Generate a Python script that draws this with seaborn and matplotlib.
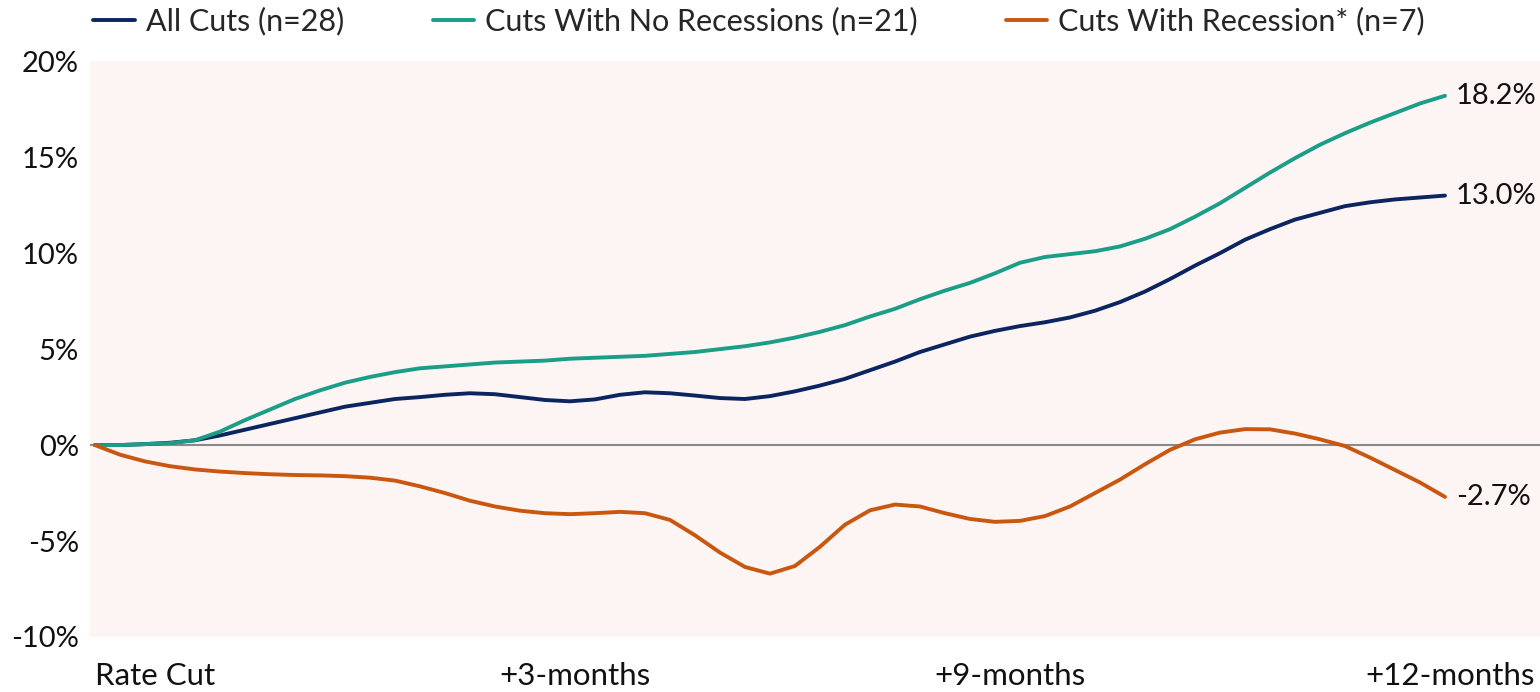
import pandas as pd
import seaborn as sns
import matplotlib.pyplot as plt
from matplotlib.transforms import ScaledTranslation

# trading-period index after the rate cut (55 evenly spaced observations over 12 months)
step = list(range(55))

all_cuts = [0.0, 0.0, 0.05, 0.12, 0.25, 0.5, 0.8, 1.1, 1.4, 1.7, 2.0, 2.2, 2.4, 2.5,
            2.62, 2.7, 2.65, 2.5, 2.35, 2.28, 2.38, 2.62, 2.75, 2.7, 2.58, 2.45, 2.4,
            2.55, 2.8, 3.1, 3.45, 3.9, 4.35, 4.85, 5.25, 5.65, 5.95, 6.2, 6.4, 6.65,
            7.0, 7.45, 8.0, 8.65, 9.35, 10.0, 10.7, 11.25, 11.75, 12.1, 12.45, 12.65,
            12.8, 12.9, 13.0]
no_recession = [0.0, 0.0, 0.05, 0.1, 0.25, 0.7, 1.3, 1.85, 2.4, 2.85, 3.25, 3.55, 3.8,
                4.0, 4.1, 4.2, 4.3, 4.35, 4.4, 4.5, 4.55, 4.6, 4.65, 4.75, 4.85, 5.0,
                5.15, 5.35, 5.6, 5.9, 6.25, 6.7, 7.1, 7.6, 8.05, 8.45, 8.95, 9.5, 9.8,
                9.95, 10.1, 10.35, 10.75, 11.25, 11.9, 12.6, 13.4, 14.2, 14.95, 15.65,
                16.25, 16.8, 17.3, 17.8, 18.2]
recession = [0.0, -0.5, -0.85, -1.1, -1.27, -1.38, -1.46, -1.52, -1.56, -1.58, -1.62,
             -1.7, -1.85, -2.15, -2.5, -2.9, -3.2, -3.42, -3.55, -3.6, -3.55, -3.48,
             -3.55, -3.9, -4.7, -5.6, -6.35, -6.7, -6.3, -5.3, -4.15, -3.4, -3.1, -3.2,
             -3.55, -3.85, -4.0, -3.95, -3.7, -3.2, -2.5, -1.8, -1.0, -0.25, 0.3, 0.65,
             0.83, 0.82, 0.6, 0.3, -0.05, -0.65, -1.3, -1.95, -2.7]

tick_pos = [0, 19.2, 36.6, 54.2]
tick_labels = ["Rate Cut", "+3-months", "+9-months", "+12-months"]
y_ticks = [-10, -5, 0, 5, 10, 15, 20]

names = ["All Cuts (n=28)", "Cuts With No Recessions (n=21)", "Cuts With Recession* (n=7)"]
colors = ["#0b2560", "#1a9e88", "#c9570f"]

df = pd.DataFrame({"step": step, names[0]: all_cuts, names[1]: no_recession, names[2]: recession})
df_melted = df.melt(id_vars=["step"], var_name="series", value_name="ret")

sns.set_style("white")
plt.rcParams["font.family"] = ["Lato", "DejaVu Sans"]

fig = plt.figure(figsize=(15.4, 6.92), dpi=100)
ax = fig.add_axes([0.0584, 0.0795, 0.9416, 0.832])
ax.set_facecolor("#fdf5f4")

ax.axhline(0, color="#8a8a8a", lw=1.5, zorder=1)
sns.lineplot(data=df_melted, x="step", y="ret", hue="series", palette=dict(zip(names, colors)),
             lw=2.8, ax=ax, zorder=3)

# end-of-line value labels
for name, col in zip(names, colors):
    last = df[name].iloc[-1]
    ax.annotate(f"{last:.1f}%", (df["step"].iloc[-1], last), xytext=(8, 0),
                textcoords="offset points", va="center", ha="left", fontsize=21, color="#111111")

ax.set_xlim(-0.2, 57.8)
ax.set_ylim(-10, 20)
ax.set_yticks(y_ticks)
ax.set_yticklabels([f"{v}%" for v in y_ticks], fontsize=21)
ax.set_xticks(tick_pos)
ax.set_xticklabels(tick_labels, fontsize=22.5)
first = ax.get_xticklabels()[0]
first.set_ha("left")
first.set_transform(first.get_transform() + ScaledTranslation(-0.05, 0, fig.dpi_scale_trans))
ax.tick_params(axis="y", length=0, pad=8, colors="#111111")
ax.tick_params(axis="x", length=0, pad=18, colors="#111111")
ax.set_xlabel("")
ax.set_ylabel("")
for s in ax.spines.values():
    s.set_visible(False)

handles, labels = ax.get_legend_handles_labels()
ax.legend_.remove()
fig.legend(handles, labels, loc="upper center", bbox_to_anchor=(0.493, 1.03), ncol=3,
           frameon=False, fontsize=22, handlelength=1.35, handletextpad=0.36, columnspacing=2.9)

fig.savefig("out.png", dpi=100)
